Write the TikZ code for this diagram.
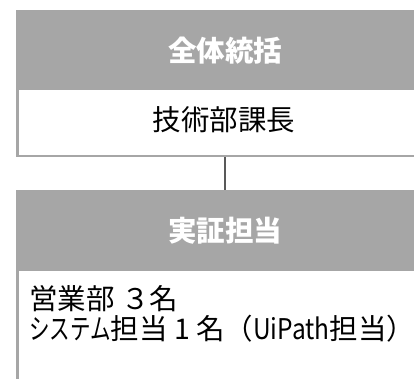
\documentclass[tikz,border=0pt]{standalone}
\usepackage{fontspec}
\usepackage{graphicx}
\newfontfamily\jp{Noto Sans CJK JP}
\definecolor{hdrgray}{HTML}{A6A6A6}
\definecolor{linegray}{HTML}{595959}
\tikzset{
  hdr/.style={draw=hdrgray, line width=2.5pt, fill=hdrgray, minimum width=416pt, minimum height=78pt, anchor=north west, inner sep=0pt, font=\jp\bfseries\fontsize{28.5}{32}\selectfont, text=white},
  bodybox/.style={draw=hdrgray, line width=2.5pt, fill=white, minimum width=416pt, anchor=north west, inner sep=0pt},
  bodytext/.style={font=\jp\fontsize{28.5}{32}\selectfont, text=black, inner sep=0pt},
  conn/.style={draw=linegray, line width=2pt}
}
\begin{document}
\begin{tikzpicture}[x=1pt,y=-1pt]
\useasboundingbox (0,0) rectangle (414,379);
\node[bodybox, minimum height=67pt] (body1) at (16,88) {};
\node[hdr] (hdr1) at (16,10) {全体統括};
\node[bodytext] (t1) at (224,120) {技術部課長};
\node[bodybox, minimum height=140pt] (body2) at (16,268) {};
\node[hdr] (hdr2) at (16,190) {実証担当};
\node[bodytext, anchor=west] (t2) at (29,299) {営業部 ３名};
\node[bodytext, anchor=west] (t3) at (29,329) {\scalebox{0.72}[1]{システム}担当 1 名（\scalebox{0.86}[1]{UiPath}担当）};
\draw[conn] (body1.south) -- (hdr2.north);
\end{tikzpicture}
\end{document}
